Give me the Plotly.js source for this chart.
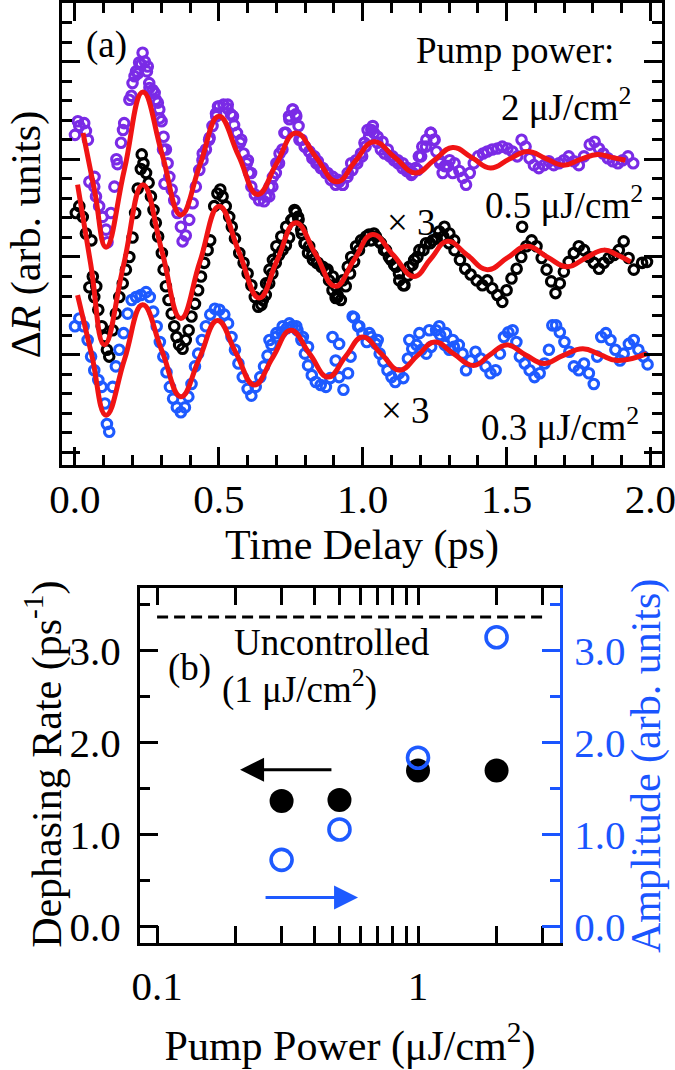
<!DOCTYPE html>
<html><head><meta charset="utf-8">
<script src="https://cdn.plot.ly/plotly-3.0.1.min.js"></script>
<style>html,body{margin:0;padding:0;background:#fff}</style>
</head><body>
<div id="chart" style="width:675px;height:1070px"></div>
<script>
// ---------- Panel (a): time-resolved ΔR traces (offset, arb. units) ----------
const t_2uJ = [0.000,0.015,0.032,0.038,0.050,0.067,0.073,0.084,0.096,0.108,0.113,0.125,0.137,0.148,0.160,0.171,0.189,0.200,0.212,0.223,0.235,0.243,0.250,0.258,0.270,0.281,0.293,0.301,0.308,0.316,0.322,0.328,0.336,0.345,0.356,0.368,0.374,0.385,0.397,0.409,0.420,0.432,0.443,0.455,0.466,0.478,0.490,0.501,0.516,0.530,0.542,0.553,0.563,0.574,0.586,0.597,0.605,0.613,0.625,0.640,0.657,0.675,0.686,0.698,0.709,0.721,0.733,0.744,0.756,0.767,0.777,0.788,0.800,0.814,0.825,0.839,0.854,0.872,0.889,0.906,0.918,0.930,0.947,0.964,0.981,0.998,1.010,1.022,1.030,1.039,1.051,1.063,1.076,1.094,1.109,1.123,1.138,1.153,1.169,1.184,1.195,1.207,1.221,1.236,1.247,1.256,1.269,1.285,1.302,1.319,1.336,1.348,1.359,1.372,1.386,1.401,1.418,1.433,1.450,1.468,1.485,1.503,1.520,1.537,1.552,1.566,1.580,1.595,1.612,1.630,1.647,1.664,1.682,1.699,1.716,1.734,1.751,1.769,1.789,1.806,1.821,1.836,1.852,1.869,1.887,1.903,1.922,1.940,
  0.010,0.045,0.068,0.144,0.167,0.196,0.207,0.219,0.230,0.253,0.259,0.277,0.288,0.294,0.306,0.311,0.444,0.468,0.491,0.497,0.531,0.549,0.578,0.601,0.612,0.664,0.676,0.688,0.700,0.711,0.728,0.745,0.757,0.769,0.780,0.798,0.815,0.832,0.844,0.861,0.878,0.896,0.913,0.931,0.948,0.960,0.977,0.994,1.006,1.017,1.035,1.052,1.069,1.087,1.104,1.122,1.139,1.156,1.174,1.191,1.203,1.220,1.237,1.250,1.267,1.278,1.296,1.313];
const dR_2uJ = [3.25,3.34,3.37,3.29,2.77,2.72,2.62,2.52,2.41,2.28,2.15,2.45,2.72,2.95,3.17,3.37,3.61,3.78,3.90,3.99,4.09,4.00,3.90,3.78,3.71,3.61,3.51,3.39,3.23,3.10,2.96,2.82,2.69,2.58,2.45,2.31,2.16,2.22,2.38,2.55,2.72,2.89,2.99,3.10,3.20,3.34,3.47,3.54,3.56,3.52,3.46,3.35,3.27,3.17,3.06,2.96,2.86,2.72,2.64,2.58,2.57,2.62,2.72,2.86,2.96,3.10,3.27,3.44,3.51,3.46,3.34,3.20,3.13,3.08,3.01,2.96,2.91,2.86,2.79,2.74,2.77,2.74,2.82,2.89,2.96,3.03,3.13,3.23,3.30,3.27,3.17,3.10,3.06,3.03,2.99,2.96,2.91,2.88,2.84,2.91,3.03,3.13,3.20,3.27,3.20,3.08,2.96,2.93,2.99,2.96,2.88,2.81,2.74,2.86,2.96,3.03,3.06,3.08,3.10,3.11,3.13,3.11,3.08,3.03,3.20,3.13,3.01,2.94,2.91,2.94,2.98,2.94,2.96,2.99,3.03,2.98,2.94,3.03,3.15,3.18,3.11,3.06,3.01,2.98,2.96,2.99,3.03,2.96,
  3.39,3.20,2.82,3.00,3.30,3.65,3.85,3.88,3.97,3.95,3.73,3.68,3.58,3.42,3.10,2.75,3.06,3.22,3.44,3.54,3.56,3.44,3.20,2.99,2.86,2.62,2.72,2.82,2.96,3.06,3.27,3.41,3.51,3.44,3.20,3.13,3.08,3.03,2.98,2.91,2.86,2.82,2.79,2.74,2.86,2.96,2.99,3.06,3.17,3.30,3.34,3.23,3.18,3.10,3.03,2.99,2.96,2.91,2.86,2.89,3.03,3.13,3.27,3.20,2.99,2.86,2.93,2.86];

const t_05uJ = [0.003,0.015,0.027,0.038,0.050,0.067,0.081,0.093,0.104,0.111,0.119,0.131,0.142,0.154,0.166,0.177,0.189,0.200,0.209,0.218,0.229,0.232,0.238,0.247,0.256,0.264,0.273,0.281,0.289,0.302,0.308,0.316,0.325,0.336,0.345,0.353,0.362,0.374,0.385,0.395,0.405,0.417,0.428,0.438,0.449,0.461,0.470,0.484,0.495,0.505,0.513,0.524,0.536,0.545,0.556,0.571,0.586,0.600,0.613,0.625,0.637,0.648,0.663,0.675,0.686,0.698,0.709,0.721,0.733,0.744,0.756,0.767,0.777,0.788,0.799,0.814,0.825,0.840,0.856,0.872,0.883,0.895,0.906,0.912,0.924,0.941,0.956,0.970,0.987,1.005,1.022,1.039,1.056,1.074,1.091,1.109,1.126,1.141,1.157,1.173,1.190,1.211,1.234,1.257,1.280,1.300,1.319,1.338,1.356,1.375,1.396,1.416,1.433,1.450,1.468,1.485,1.500,1.517,1.535,1.551,1.554,1.569,1.587,1.604,1.622,1.639,1.655,1.670,1.685,1.699,1.716,1.734,1.751,1.769,1.786,1.803,1.821,1.838,1.855,1.873,1.890,1.907,1.924,1.942,1.971,1.988,
  0.057,0.062,0.074,0.653,0.664,0.676,0.688,0.700,0.717,0.734,0.752,0.763,0.775,0.786,0.798,0.810,0.827,0.844,0.861,0.878,0.896,0.907,0.913,0.931,0.948,0.960,0.977,0.994,1.012,1.029,1.046,1.063,1.081,1.098,1.116,1.127,1.145,1.162,1.179,1.197,1.220,1.243,1.266,1.284,1.301,1.318];
const dR_05uJ = [2.45,2.52,2.41,2.24,1.69,1.59,1.46,1.29,1.18,1.05,0.98,1.25,1.42,1.59,1.73,1.87,2.00,2.20,2.45,2.70,2.90,3.05,2.96,2.86,2.76,2.62,2.48,2.35,2.21,2.04,1.87,1.70,1.56,1.42,1.29,1.18,1.10,1.06,1.15,1.25,1.39,1.52,1.66,1.80,1.94,2.07,2.17,2.52,2.65,2.69,2.62,2.52,2.41,2.31,2.19,2.04,1.94,1.83,1.71,1.59,1.49,1.51,1.61,1.73,1.83,1.94,2.02,2.07,2.12,2.20,2.38,2.46,2.38,2.24,2.14,2.11,2.02,1.94,1.90,1.85,1.76,1.66,1.58,1.61,1.56,1.70,1.83,1.95,2.07,2.16,2.23,2.24,2.16,2.07,2.00,1.92,1.83,1.71,1.81,1.92,2.00,2.07,2.14,2.19,2.21,2.14,2.07,1.97,1.88,1.82,1.76,1.71,1.76,1.68,1.61,1.54,1.66,1.78,1.88,2.00,2.31,2.11,2.17,2.11,1.99,1.87,1.75,1.63,1.73,1.85,1.95,2.04,2.11,2.07,2.00,1.94,1.88,1.94,1.99,2.02,2.07,2.16,1.99,1.87,1.94,1.95,
  2.17,1.80,1.70,1.56,1.73,1.87,1.97,2.11,2.21,2.31,2.38,2.48,2.41,2.28,2.14,2.04,1.97,1.94,1.90,1.87,1.80,1.70,1.59,1.76,1.90,2.00,2.11,2.17,2.21,2.17,2.21,2.14,2.07,1.97,1.90,1.76,1.71,1.90,1.97,2.07,2.14,2.17,2.26,2.31,2.24,2.17];

const t_03uJ = [0.000,0.015,0.030,0.044,0.056,0.067,0.081,0.093,0.104,0.111,0.119,0.131,0.142,0.154,0.169,0.183,0.197,0.212,0.229,0.247,0.260,0.272,0.284,0.295,0.307,0.318,0.330,0.341,0.354,0.368,0.382,0.394,0.405,0.417,0.428,0.441,0.455,0.470,0.486,0.502,0.519,0.532,0.544,0.556,0.568,0.583,0.600,0.613,0.628,0.644,0.657,0.669,0.683,0.699,0.718,0.736,0.756,0.773,0.787,0.799,0.810,0.823,0.837,0.854,0.872,0.887,0.895,0.906,0.918,0.933,0.949,0.958,0.970,0.984,0.999,1.014,1.030,1.046,1.059,1.072,1.086,1.100,1.113,1.126,1.141,1.157,1.172,1.187,1.204,1.221,1.238,1.255,1.269,1.285,1.301,1.317,1.334,1.347,1.359,1.375,1.392,1.410,1.427,1.444,1.462,1.477,1.491,1.506,1.521,1.534,1.546,1.563,1.580,1.597,1.615,1.632,1.647,1.659,1.672,1.685,1.701,1.718,1.734,1.751,1.769,1.786,1.803,1.815,1.829,1.845,1.861,1.878,1.894,1.907,1.925,1.942,1.958,1.976,1.990,
  0.676,0.700,0.722,0.745,0.769,0.792,0.810,0.918,0.965,0.988,1.023,1.052,1.162,1.197,1.231,1.266,1.289,1.313];
const dR_03uJ = [1.29,1.37,1.29,1.15,0.98,0.84,0.74,0.67,0.50,0.29,0.21,0.67,0.88,1.05,1.22,1.42,1.56,1.59,1.61,1.64,1.59,1.44,1.29,1.13,0.98,0.82,0.67,0.55,0.46,0.41,0.46,0.57,0.70,0.88,1.01,1.15,1.29,1.41,1.47,1.46,1.41,1.32,1.18,1.05,0.91,0.77,0.65,0.58,0.67,0.77,0.88,0.99,1.10,1.18,1.23,1.27,1.29,1.25,1.15,1.01,0.89,0.79,0.72,0.69,0.67,0.76,1.18,0.94,0.77,0.64,0.81,0.98,1.38,1.29,1.22,1.13,1.18,1.11,1.01,0.93,0.84,0.77,0.72,0.81,0.76,0.96,1.06,1.10,1.05,1.01,1.08,1.25,1.20,1.10,1.05,1.08,1.10,1.01,0.84,0.94,1.03,0.96,0.88,0.81,0.84,1.01,1.18,1.23,1.25,1.13,0.98,0.91,0.84,0.77,0.81,0.91,1.05,1.30,1.30,1.23,1.13,1.03,0.88,0.84,0.91,0.81,0.70,0.98,1.18,1.22,1.15,1.05,0.94,1.01,1.11,1.15,1.05,0.98,0.90,
  1.15,1.22,1.29,1.32,1.29,1.18,1.08,1.11,1.39,1.29,1.22,1.15,1.15,1.22,1.25,1.29,1.22,1.15];

// fitted damped-oscillation curves
const fitT_2uJ = [0.028,0.068,0.108,0.172,0.236,0.302,0.368,0.434,0.500,0.568,0.635,0.701,0.767,0.838,0.910,0.974,1.038,1.111,1.184,1.248,1.3125,1.378,1.444,1.508,1.573,1.635,1.698,1.757,1.816,1.865,1.913];
const fit_2uJ  = [3.27,2.68,2.10,2.90,3.69,3.06,2.43,2.94,3.44,3.04,2.64,2.96,3.27,3.02,2.77,2.98,3.18,3.02,2.86,2.99,3.12,3.02,2.91,3.00,3.08,3.01,2.94,3.00,3.05,3.02,2.99];
const fitT_05uJ = [0.009,0.055,0.102,0.169,0.236,0.302,0.368,0.434,0.501,0.570,0.640,0.703,0.767,0.836,0.905,0.970,1.034,1.106,1.178,1.236,1.294,1.363,1.433,1.502,1.572,1.641,1.711,1.775,1.838,1.885,1.931];
const fit_05uJ  = [2.74,1.92,1.10,1.92,2.74,2.06,1.37,1.95,2.52,2.05,1.58,1.97,2.35,2.03,1.70,1.97,2.23,2.02,1.80,1.98,2.16,2.02,1.87,1.99,2.11,2.00,1.90,1.99,2.07,2.02,1.95];
const fitT_03uJ = [0.009,0.058,0.108,0.172,0.235,0.302,0.368,0.432,0.495,0.559,0.623,0.687,0.750,0.815,0.880,0.940,1.000,1.064,1.128,1.190,1.250,1.315,1.385,1.443,1.500,1.565,1.630,1.695,1.765,1.825,1.885,1.988];
const fit_03uJ  = [1.61,1.00,0.38,0.95,1.51,1.04,0.57,0.96,1.35,1.02,0.69,0.97,1.25,1.01,0.77,0.98,1.18,1.01,0.84,0.99,1.13,1.01,0.89,1.00,1.10,1.00,0.91,0.99,1.06,1.00,0.94,1.01];

const timeTicks = [0.0, 0.5, 1.0, 1.5, 2.0];

// ---------- Panel (b): dephasing rate and amplitude vs pump power ----------
const pumpPower     = [0.3, 0.5, 1, 2];          // μJ/cm²
const dephasingRate = [1.37, 1.38, 1.70, 1.70];  // ps^-1
const amplitude     = [0.73, 1.06, 1.84, 3.15];  // arb. units
const uncontrolledRate = 3.37;                   // ps^-1 at 1 μJ/cm²
const uncontrolledSpan = [0.1, 3];
const powerTicks = [0.1, 1];
const powerMinorTicks = [0.2,0.3,0.4,0.5,0.6,0.7,0.8,0.9,2,3];
const leftArrowPower = [0.472, 0.208];   // tail, head
const rightArrowPower = [0.257, 0.589];  // tail, head
const leftArrowLevel = 1.71, rightArrowLevel = 0.32;

const FONT = 'Liberation Serif, Times New Roman, serif';
const PURPLE = '#7a2be6', BLUE = '#1e5aff', RED = '#f01414', AXBLUE = '#1a55ff';

function circles(x, y, color) {
  return {x, y, type:'scatter', mode:'markers', xaxis:'x', yaxis:'y', cliponaxis:false,
    marker:{symbol:'circle-open', size:9.5, color, line:{width:3.1, color}}, showlegend:false};
}
function fitLine(x, y) {
  return {x, y, type:'scatter', mode:'lines', xaxis:'x', yaxis:'y',
    line:{color:RED, width:5, shape:'spline', smoothing:1.3}, showlegend:false};
}

const traces = [
  circles(t_2uJ, dR_2uJ, PURPLE),
  circles(t_05uJ, dR_05uJ, '#000'),
  circles(t_03uJ, dR_03uJ, BLUE),
  fitLine(fitT_2uJ, fit_2uJ),
  fitLine(fitT_05uJ, fit_05uJ),
  fitLine(fitT_03uJ, fit_03uJ),
  {x: uncontrolledSpan, y: uncontrolledSpan.map(() => uncontrolledRate), type:'scatter', mode:'lines',
   xaxis:'x2', yaxis:'y2', line:{color:'#000', width:3, dash:'11px,6px'}, showlegend:false},
  {x: pumpPower, y: dephasingRate, type:'scatter', mode:'markers', xaxis:'x2', yaxis:'y2',
   marker:{symbol:'circle', size:24, color:'#000'}, showlegend:false},
  {x: pumpPower, y: amplitude, type:'scatter', mode:'markers', xaxis:'x2', yaxis:'y3',
   marker:{symbol:'circle-open', size:21, color:BLUE, line:{width:3.6, color:BLUE}}, showlegend:false}
];

const axBase = {showline:true, linewidth:3, linecolor:'#000', ticks:'inside', tickwidth:3, tickcolor:'#000',
  showgrid:false, zeroline:false, tickfont:{family:FONT, size:41, color:'#000'}};

function note(text, x, y, opts) {
  return Object.assign({text, xref:'paper', yref:'paper', x, y, xanchor:'center', yanchor:'middle',
    showarrow:false, font:{family:FONT, size:37, color:'#000'}}, opts || {});
}

const layout = {
  width:675, height:1070, margin:{l:0, r:0, t:0, b:0},
  paper_bgcolor:'#fff', plot_bgcolor:'rgba(0,0,0,0)',
  font:{family:FONT, color:'#000'},
  xaxis: Object.assign({}, axBase, {
    domain:[0.0919, 0.9807], anchor:'y', range:[-0.045, 2.04], mirror:'allticks',
    tickvals: timeTicks, tickformat:'.1f', ticklen:18, ticklabelstandoff:-4, ticklabeloverflow:'allow',
    minor:{dtick:0.1, tick0:0, ticks:'inside', ticklen:10, tickwidth:3, tickcolor:'#000'},
    title:{text:'Time Delay (ps)', font:{family:FONT, size:42, color:'#000'}, standoff:9}
  }),
  yaxis: Object.assign({}, axBase, {
    domain:[0.5654, 0.9972], anchor:'x', range:[-0.13, 4.6], mirror:'allticks',
    dtick:1, tick0:0, ticklen:18, showticklabels:false,
    minor:{dtick:0.2, tick0:0, ticks:'inside', ticklen:10, tickwidth:3, tickcolor:'#000'}
  }),
  xaxis2: Object.assign({}, axBase, {
    domain:[0.2074, 0.8296], anchor:'y2', type:'log', range:[Math.log10(0.086), Math.log10(3.5)],
    mirror:'allticks', tickvals: powerTicks, ticktext: powerTicks.map(String), ticklen:17,
    ticklabelstandoff:5, ticklabeloverflow:'allow',
    minor:{tickvals: powerMinorTicks, ticks:'inside', ticklen:10, tickwidth:3, tickcolor:'#000'},
    title:{text:'Pump Power (μJ/cm<sup>2</sup>)', font:{family:FONT, size:42, color:'#000'}, standoff:23}
  }),
  yaxis2: Object.assign({}, axBase, {
    domain:[0.1187, 0.4505], anchor:'x2', range:[-0.174, 3.685], mirror:false,
    tickvals:[0,1,2,3], tickformat:'.1f', ticklen:18, ticklabelstandoff:8,
    minor:{dtick:0.5, tick0:0, ticks:'inside', ticklen:10, tickwidth:3, tickcolor:'#000'}
  }),
  yaxis3: Object.assign({}, axBase, {
    overlaying:'y2', side:'right', anchor:'x2', range:[-0.174, 3.685],
    linecolor:AXBLUE, tickcolor:AXBLUE, tickfont:{family:FONT, size:41, color:AXBLUE},
    tickvals:[0,1,2,3], tickformat:'.1f', ticklen:18, ticklabelstandoff:3,
    minor:{dtick:0.5, tick0:0, ticks:'inside', ticklen:10, tickwidth:3, tickcolor:AXBLUE}
  }),
  annotations: [
    note('Δ<i>R</i> (arb. units)', 0.0385, 0.781, {textangle:-90, font:{family:FONT, size:42, color:'#000'}}),
    note('Dephasing Rate (ps<sup>-1</sup>)', 0.065, 0.286, {textangle:-90, font:{family:FONT, size:42, color:'#000'}}),
    note('Amplitude (arb. units)', 0.957, 0.284, {textangle:-90, font:{family:FONT, size:42, color:AXBLUE}}),
    note('(a)', 0.1585, 0.958),
    note('Pump power:', 0.763, 0.953),
    note('2 μJ/cm<sup>2</sup>', 0.938, 0.902, {xanchor:'right'}),
    note('0.5 μJ/cm<sup>2</sup>', 0.956, 0.811, {xanchor:'right'}),
    note('× 3', 0.610, 0.792),
    note('× 3', 0.600, 0.616),
    note('0.3 μJ/cm<sup>2</sup>', 0.950, 0.603, {xanchor:'right'}),
    note('(b)', 0.281, 0.376),
    note('Uncontrolled', 0.492, 0.400),
    note('(1 μJ/cm<sup>2</sup>)', 0.444, 0.358),
    {text:'', xref:'x2', yref:'y2', axref:'x2', ayref:'y2',
     x:Math.log10(leftArrowPower[1]), y:leftArrowLevel, ax:Math.log10(leftArrowPower[0]), ay:leftArrowLevel,
     showarrow:true, arrowhead:2, arrowsize:1.6, arrowwidth:3, arrowcolor:'#000'},
    {text:'', xref:'x2', yref:'y2', axref:'x2', ayref:'y2',
     x:Math.log10(rightArrowPower[1]), y:rightArrowLevel, ax:Math.log10(rightArrowPower[0]), ay:rightArrowLevel,
     showarrow:true, arrowhead:2, arrowsize:1.6, arrowwidth:3, arrowcolor:BLUE}
  ]
};

Plotly.newPlot('chart', traces, layout, {staticPlot:true, displayModeBar:false});
</script>
</body></html>
